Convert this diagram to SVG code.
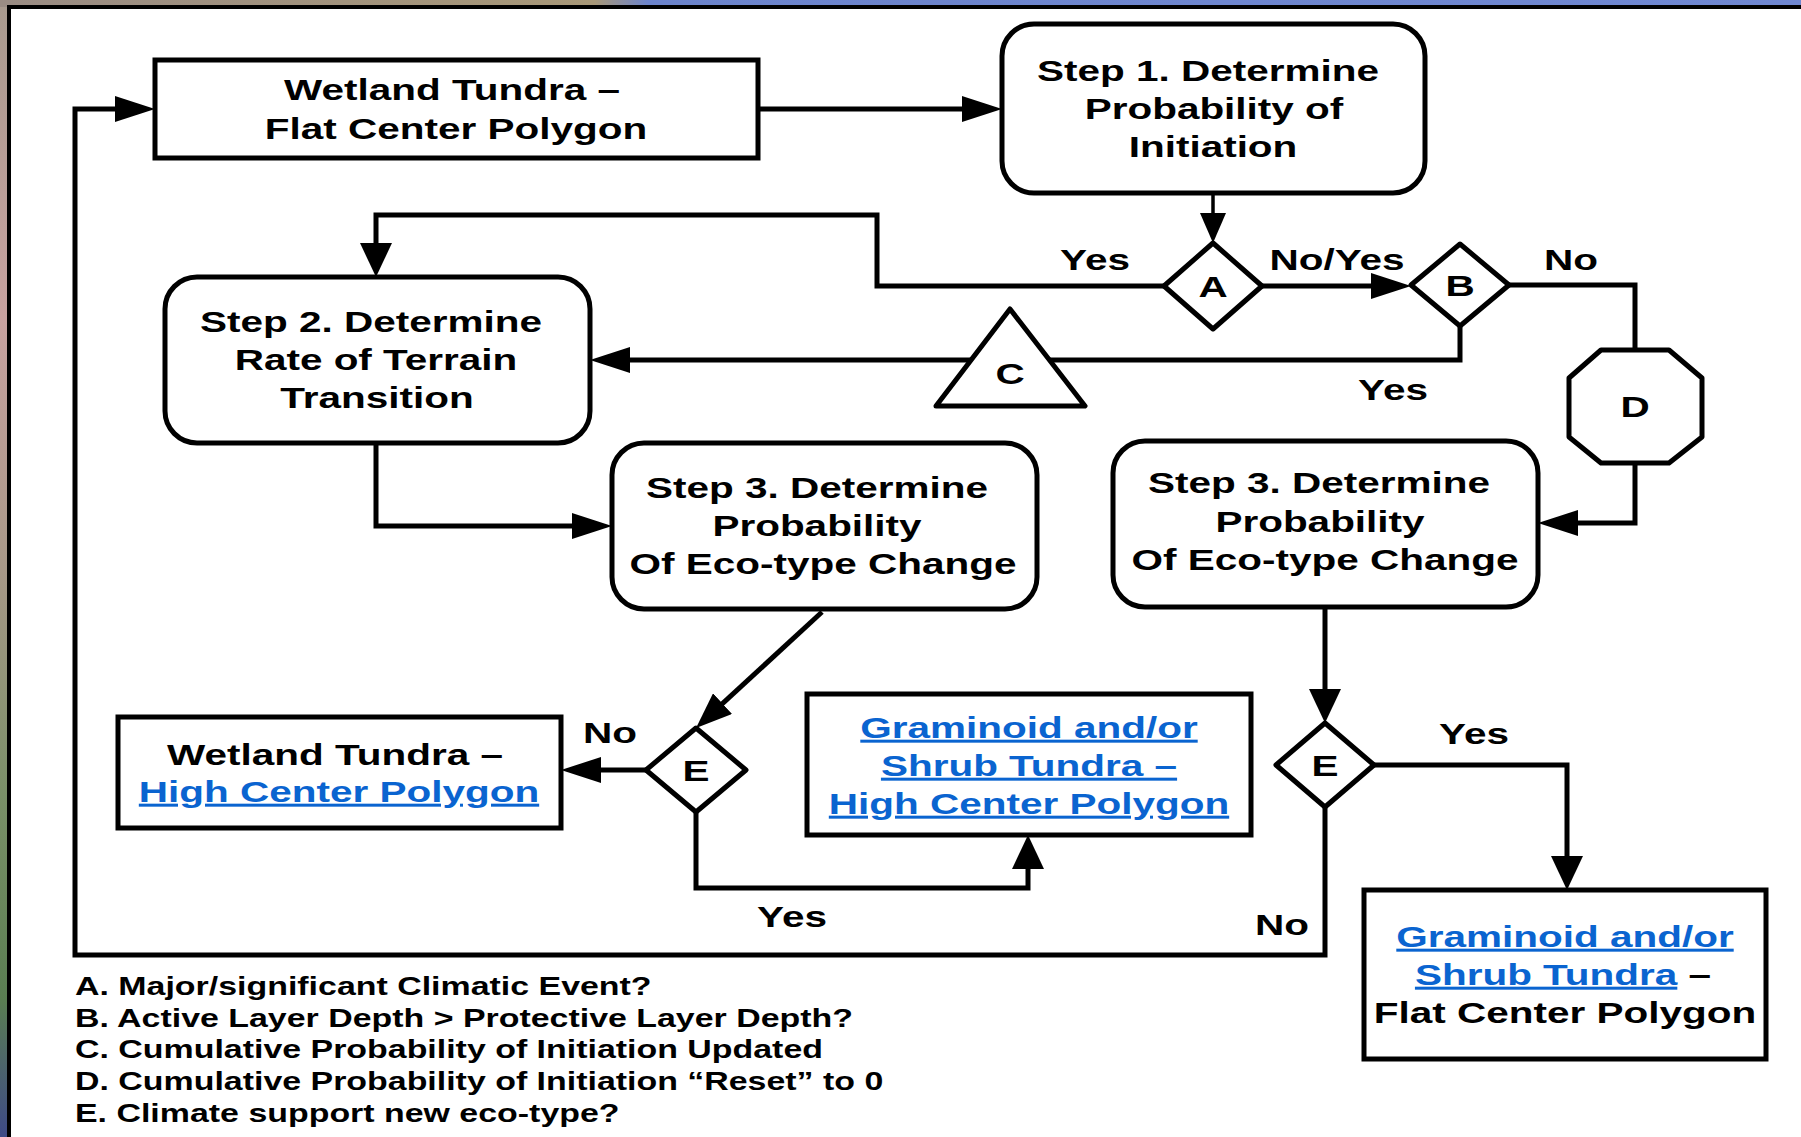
<svg xmlns="http://www.w3.org/2000/svg" width="1801" height="1137" viewBox="0 0 1801 1137">
<style>
text{font-family:"Liberation Sans",Arial,sans-serif;font-weight:bold;font-size:30px;fill:#000;text-anchor:middle}
.leg{font-size:25.5px;text-anchor:start}
.link{fill:#0a64d0;text-decoration:underline}
.box{fill:#fff;stroke:#000;stroke-width:5;stroke-linejoin:round}
.ln{fill:none;stroke:#000;stroke-width:5;stroke-linejoin:miter}
</style>
<defs>
<linearGradient id="lg" x1="0" y1="0" x2="0" y2="1">
<stop offset="0" stop-color="#a89a8e"/><stop offset="0.28" stop-color="#c8a2a0"/><stop offset="0.5" stop-color="#a89888"/><stop offset="0.7" stop-color="#7a9068"/><stop offset="0.88" stop-color="#5a7e52"/><stop offset="1" stop-color="#3e4a86"/>
</linearGradient>
<linearGradient id="tg" x1="0" y1="0" x2="1" y2="0">
<stop offset="0" stop-color="#9a8c84"/><stop offset="0.33" stop-color="#a89878"/><stop offset="0.36" stop-color="#6c84cc"/><stop offset="1" stop-color="#7088d2"/>
</linearGradient>
<marker id="aH" viewBox="0 -13 40 26" refX="30" refY="0" markerWidth="40" markerHeight="26" markerUnits="userSpaceOnUse" orient="auto"><path d="M0,-13L40,0L0,13z" fill="#000"/></marker>
<marker id="aV" viewBox="0 -16 34 32" refX="24" refY="0" markerWidth="34" markerHeight="32" markerUnits="userSpaceOnUse" orient="auto"><path d="M0,-16L34,0L0,16z" fill="#000"/></marker>
<marker id="aS" viewBox="0 -13 30 26" refX="20" refY="0" markerWidth="30" markerHeight="26" markerUnits="userSpaceOnUse" orient="auto"><path d="M0,-13L30,0L0,13z" fill="#000"/></marker>
<marker id="aD" viewBox="0 -14 36 28" refX="26" refY="0" markerWidth="36" markerHeight="28" markerUnits="userSpaceOnUse" orient="auto"><path d="M0,-14L36,0L0,14z" fill="#000"/></marker>
</defs>
<rect x="0" y="0" width="1801" height="1137" fill="#fff"/>
<rect x="0" y="0" width="9" height="1137" fill="url(#lg)"/>
<rect x="0" y="0" width="1801" height="7" fill="url(#tg)"/>
<rect x="9" y="7" width="1800" height="1140" fill="#fff" stroke="#000" stroke-width="4"/>

<g id="connectors">
<path class="ln" d="M758,109H992" marker-end="url(#aH)"/>
<path class="ln" style="stroke-width:3.5" d="M1213,193V233" marker-end="url(#aS)"/>
<path class="ln" d="M1164,286H877V215H376V267" marker-end="url(#aV)"/>
<path class="ln" d="M1262,286H1401" marker-end="url(#aH)"/>
<path class="ln" d="M1509,285H1635V350"/>
<path class="ln" d="M1460,326V360H600" marker-end="url(#aH)"/>
<path class="ln" d="M1635,463V523H1548" marker-end="url(#aH)"/>
<path class="ln" d="M376,443V526H602" marker-end="url(#aH)"/>
<path class="ln" d="M822,612L703.4,721.2" marker-end="url(#aD)"/>
<path class="ln" d="M646,770H571" marker-end="url(#aH)"/>
<path class="ln" d="M696,812V888H1028V845" marker-end="url(#aV)"/>
<path class="ln" d="M1325,607V713" marker-end="url(#aV)"/>
<path class="ln" d="M1374,765H1567V880" marker-end="url(#aV)"/>
<path class="ln" d="M1325,807V955H75V109H145" marker-end="url(#aH)"/>
<text transform="translate(1095 0) scale(1.35 1)" x="0" y="270">Yes</text>
<text transform="translate(1337 0) scale(1.35 1)" x="0" y="270">No/Yes</text>
<text transform="translate(1571 0) scale(1.35 1)" x="0" y="270">No</text>
<text transform="translate(1393 0) scale(1.35 1)" x="0" y="400">Yes</text>
<text transform="translate(610 0) scale(1.35 1)" x="0" y="743">No</text>
<text transform="translate(792 0) scale(1.35 1)" x="0" y="927">Yes</text>
<text transform="translate(1474 0) scale(1.35 1)" x="0" y="744">Yes</text>
<text transform="translate(1282 0) scale(1.35 1)" x="0" y="935">No</text>
</g>

<g id="wetland-fcp">
<rect class="box" x="155" y="60" width="603" height="98" style="stroke-linejoin:miter"/>
<text transform="translate(452 0) scale(1.35 1)" x="0" y="100">Wetland Tundra –</text>
<text transform="translate(456 0) scale(1.35 1)" x="0" y="139">Flat Center Polygon</text>
</g>
<g id="step1">
<rect class="box" x="1002" y="24" width="423" height="169" rx="32"/>
<text transform="translate(1208 0) scale(1.35 1)" x="0" y="81">Step 1. Determine</text>
<text transform="translate(1214 0) scale(1.35 1)" x="0" y="119">Probability of</text>
<text transform="translate(1213 0) scale(1.35 1)" x="0" y="157">Initiation</text>
</g>
<g id="A">
<polygon class="box" points="1213,243 1262,286 1213,329 1164,286"/>
<text transform="translate(1213 0) scale(1.35 1)" x="0" y="297">A</text>
</g>
<g id="B">
<polygon class="box" points="1460,244 1509,285 1460,326 1411,285"/>
<text transform="translate(1460 0) scale(1.35 1)" x="0" y="296">B</text>
</g>
<g id="C">
<polygon class="box" points="1010,309 1085,406 936,406"/>
<text transform="translate(1010 0) scale(1.35 1)" x="0" y="384">C</text>
</g>
<g id="D">
<polygon class="box" points="1601,350 1669,350 1702,378 1702,437 1669,463 1601,463 1569,437 1569,378"/>
<text transform="translate(1635 0) scale(1.35 1)" x="0" y="417">D</text>
</g>
<g id="step2">
<rect class="box" x="165" y="277" width="425" height="166" rx="32"/>
<text transform="translate(371 0) scale(1.35 1)" x="0" y="332">Step 2. Determine</text>
<text transform="translate(376 0) scale(1.35 1)" x="0" y="370">Rate of Terrain</text>
<text transform="translate(377 0) scale(1.35 1)" x="0" y="408">Transition</text>
</g>
<g id="step3a">
<rect class="box" x="612" y="443" width="425" height="166" rx="32"/>
<text transform="translate(817 0) scale(1.35 1)" x="0" y="498">Step 3. Determine</text>
<text transform="translate(817 0) scale(1.35 1)" x="0" y="536">Probability</text>
<text transform="translate(823 0) scale(1.35 1)" x="0" y="574">Of Eco-type Change</text>
</g>
<g id="step3b">
<rect class="box" x="1113" y="441" width="425" height="166" rx="32"/>
<text transform="translate(1319 0) scale(1.35 1)" x="0" y="493">Step 3. Determine</text>
<text transform="translate(1320 0) scale(1.35 1)" x="0" y="532">Probability</text>
<text transform="translate(1325 0) scale(1.35 1)" x="0" y="570">Of Eco-type Change</text>
</g>
<g id="E1">
<polygon class="box" points="696,728 746,770 696,812 646,770"/>
<text transform="translate(696 0) scale(1.35 1)" x="0" y="781">E</text>
</g>
<g id="E2">
<polygon class="box" points="1325,723 1374,765 1325,807 1276,765"/>
<text transform="translate(1325 0) scale(1.35 1)" x="0" y="776">E</text>
</g>
<g id="wetland-hcp">
<rect class="box" x="118" y="717" width="443" height="111" style="stroke-linejoin:miter"/>
<text transform="translate(335 0) scale(1.35 1)" x="0" y="765">Wetland Tundra –</text>
<text class="link" transform="translate(339 0) scale(1.35 1)" x="0" y="802">High Center Polygon</text>
</g>
<g id="graminoid-hcp">
<rect class="box" x="807" y="694" width="444" height="141" style="stroke-linejoin:miter"/>
<text class="link" transform="translate(1029 0) scale(1.35 1)" x="0" y="738">Graminoid and/or</text>
<text class="link" transform="translate(1029 0) scale(1.35 1)" x="0" y="776">Shrub Tundra –</text>
<text class="link" transform="translate(1029 0) scale(1.35 1)" x="0" y="814">High Center Polygon</text>
</g>
<g id="graminoid-fcp">
<rect class="box" x="1364" y="890" width="402" height="169" style="stroke-linejoin:miter"/>
<text class="link" transform="translate(1565 0) scale(1.35 1)" x="0" y="947">Graminoid and/or</text>
<text transform="translate(1563 0) scale(1.35 1)" x="0" y="985"><tspan class="link">Shrub Tundra</tspan> –</text>
<text transform="translate(1565 0) scale(1.35 1)" x="0" y="1023">Flat Center Polygon</text>
</g>
<g id="legend">
<text class="leg" transform="translate(75 0) scale(1.33 1)" x="0" y="995">A. Major/significant Climatic Event?</text>
<text class="leg" transform="translate(75 0) scale(1.33 1)" x="0" y="1027">B. Active Layer Depth &gt; Protective Layer Depth?</text>
<text class="leg" transform="translate(75 0) scale(1.33 1)" x="0" y="1058">C. Cumulative Probability of Initiation Updated</text>
<text class="leg" transform="translate(75 0) scale(1.33 1)" x="0" y="1090">D. Cumulative Probability of Initiation “Reset” to 0</text>
<text class="leg" transform="translate(75 0) scale(1.33 1)" x="0" y="1122">E. Climate support new eco-type?</text>
</g>
</svg>
